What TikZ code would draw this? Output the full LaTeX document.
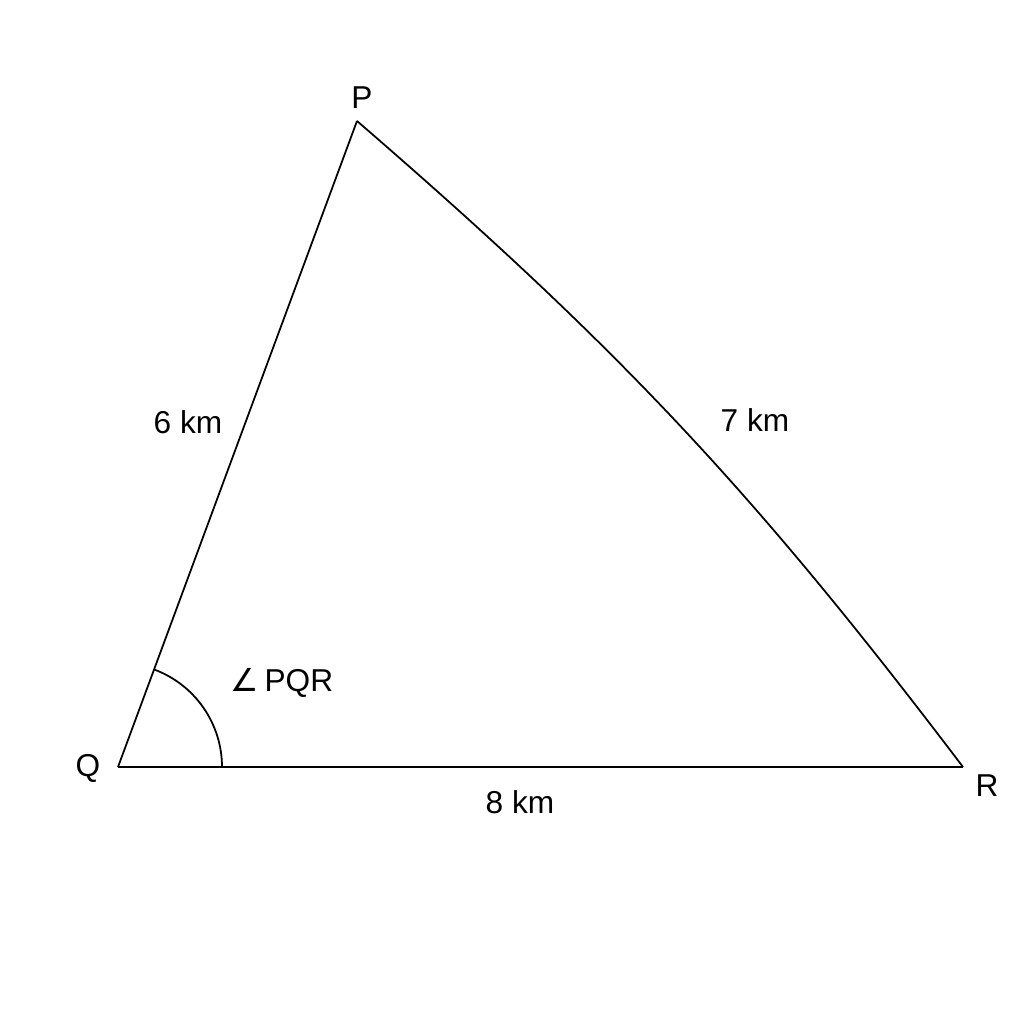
\documentclass[tikz,border=0pt]{standalone}
\usepackage{fontspec}
\setmainfont{Liberation Sans}
\newfontfamily\symbfont{DejaVu Sans}
\usetikzlibrary{positioning,calc}
\tikzset{
	vertex/.style = {inner sep=0, minimum size=0},
	side/.style = {draw=black, line width=0.5pt},
	lbl/.style = {inner sep=1pt, font=\fontsize{9}{11}\selectfont},
	anglearc/.style = {draw=black, line width=0.5pt}
}
\begin{document}
\begin{tikzpicture}
	\useasboundingbox (0,0) rectangle (10.24,10.24);
	
	\node [vertex] (Q) at (1.18,2.57) {};
	\node [vertex] (P) at (3.57,9.03) {};
	\node [vertex] (R) at (9.63,2.57) {};
	
	\draw [side] (Q.center) -- (P.center);
	\draw [side] (P.center) to[bend left=6] (R.center);
	\draw [side] (R.center) -- (Q.center);
	
	% angle at Q
	\draw [anglearc] ($(Q.center)+(1.04,0)$) arc (0:69.7:1.04);
	
	\node [lbl] (Plbl) at (3.62,9.26) {P};
	\node [lbl] (Qlbl) at (0.88,2.56) {Q};
	\node [lbl] (Rlbl) at (9.87,2.38) {R};
	\node [lbl] (QP) at (1.88,6.02) {6 km};
	\node [lbl] (PR) at (7.55,6.04) {7 km};
	\node [lbl] (QR) at (5.20,2.22) {8 km};
	\node [lbl] (ang) at (2.82,3.41) {{\symbfont ∠}\,PQR};
\end{tikzpicture}
\end{document}
